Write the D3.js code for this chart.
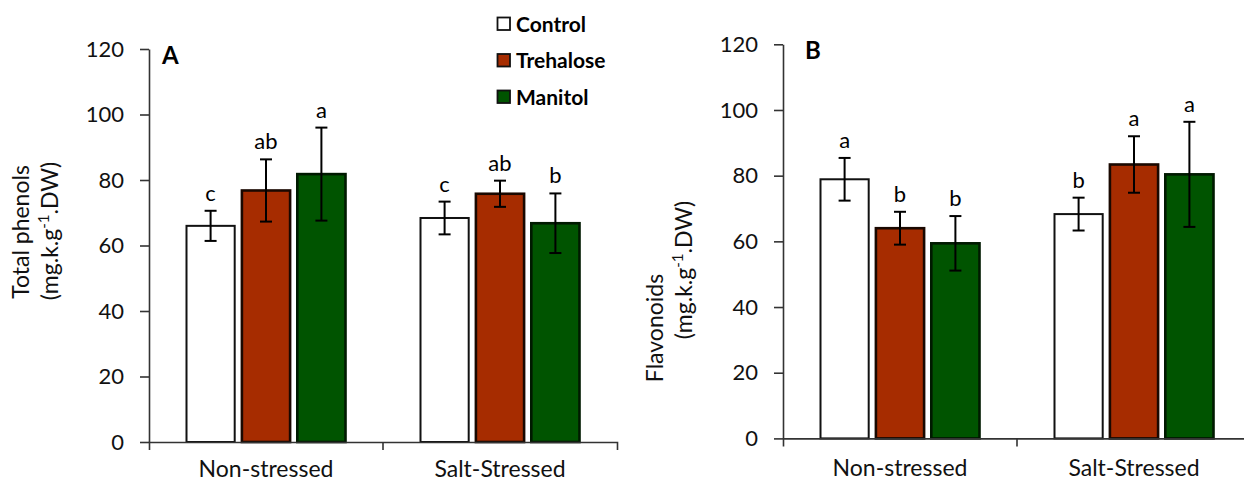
<!DOCTYPE html>
<html>
<head>
<meta charset="utf-8">
<script src="https://cdn.jsdelivr.net/npm/d3@7"></script>
<style>
    body { margin: 0; background: #fff; }
    svg { display: block; font-family: Lato, "Open Sans", sans-serif; }
</style>
</head>
<body>
<div id="chart"></div>
<script>
// values
const groups = ['Non-stressed', 'Salt-Stressed'];
const treatments = ['Control', 'Trehalose', 'Manitol'];
const yTicks = [0, 20, 40, 60, 80, 100, 120];

const phenolMeans = [[66, 76.8, 81.8], [68.4, 75.8, 66.8]];
const phenolErrors = [[4.6, 9.5, 14.2], [5, 4, 9.1]];
const phenolLetters = [['c', 'ab', 'a'], ['c', 'ab', 'b']];

const flavMeans = [[78.9, 64, 59.4], [68.3, 83.4, 80.4]];
const flavErrors = [[6.5, 5, 8.3], [5, 8.6, 16]];
const flavLetters = [['a', 'b', 'b'], ['b', 'a', 'a']];

const fills = ['#ffffff', '#a62c00', '#005400'];
const strokes = ['#111', '#1a0800', '#001a00'];

const svg = d3.select('#chart')
    .append('svg')
    .attr('width', 1244)
    .attr('height', 484);

drawPanel({
    label: 'A', labelDx: 13, left: 149, right: 617, top: 49, bottom: 442, xPad: 19,
    means: phenolMeans, errors: phenolErrors, letters: phenolLetters,
    title: 'Total phenols', titleX: 29, unitX: 58, titleY: 232, unitY: 231
});

drawPanel({
    label: 'B', labelDx: 22, left: 783, right: 1251, top: 44.3, bottom: 438.4, xPad: 21,
    means: flavMeans, errors: flavErrors, letters: flavLetters,
    title: 'Flavonoids', titleX: 663, unitX: 692, titleY: 328, unitY: 270
});

drawLegend();

function drawPanel(p) {
    const g = svg.append('g');

    const y = d3.scaleLinear()
        .domain([0, 120])
        .range([p.bottom, p.top]);

    const x0 = d3.scaleBand()
        .domain(groups)
        .range([p.left, p.right]);

    const groupPad = 37.5;
    const x1 = d3.scaleBand()
        .domain(treatments)
        .range([groupPad, x0.bandwidth() - groupPad])
        .paddingInner(0.13);

    const rows = [];
    groups.forEach((grp, i) => {
        treatments.forEach((t, j) => {
            rows.push({group: grp, treat: t, idx: j,
                mean: p.means[i][j], err: p.errors[i][j], letter: p.letters[i][j]});
        });
    });

    // bars
    g.selectAll('.bar')
        .data(rows)
        .enter()
        .append('rect')
        .attr('class', 'bar')
        .attr('x', d => x0(d.group) + x1(d.treat))
        .attr('width', x1.bandwidth())
        .attr('y', d => y(d.mean))
        .attr('height', d => y(0) - y(d.mean))
        .attr('fill', d => fills[d.idx])
        .attr('stroke', d => strokes[d.idx])
        .attr('stroke-width', d => d.idx === 0 ? 2 : 2.6);

    // error bars
    const cx = d => x0(d.group) + x1(d.treat) + x1.bandwidth() / 2;
    const eb = g.selectAll('.err')
        .data(rows)
        .enter()
        .append('g')
        .attr('class', 'err')
        .attr('stroke', '#000')
        .attr('stroke-width', 2);
    eb.append('line')
        .attr('x1', cx).attr('x2', cx)
        .attr('y1', d => y(d.mean + d.err))
        .attr('y2', d => y(d.mean - d.err));
    eb.append('line')
        .attr('x1', d => cx(d) - 6).attr('x2', d => cx(d) + 6)
        .attr('y1', d => y(d.mean + d.err)).attr('y2', d => y(d.mean + d.err));
    eb.append('line')
        .attr('x1', d => cx(d) - 6).attr('x2', d => cx(d) + 6)
        .attr('y1', d => y(d.mean - d.err)).attr('y2', d => y(d.mean - d.err));

    // significance letters
    g.selectAll('.letter')
        .data(rows)
        .enter()
        .append('text')
        .attr('class', 'letter')
        .attr('x', cx)
        .attr('y', d => y(d.mean + d.err) - 10)
        .attr('text-anchor', 'middle')
        .attr('font-size', 22)
        .attr('fill', '#000')
        .text(d => d.letter);

    // y axis
    const yAxis = g.append('g')
        .attr('transform', 'translate(' + p.left + ',0)')
        .call(d3.axisLeft(y).tickValues(yTicks).tickSize(9).tickSizeOuter(0).tickPadding(16));
    yAxis.attr('font-family', null);
    yAxis.selectAll('text').attr('font-size', 22).attr('fill', '#111');
    yAxis.selectAll('line, path').attr('stroke', '#333').attr('stroke-width', 1.6);

    // x axis
    const xAxis = g.append('g')
        .attr('transform', 'translate(0,' + p.bottom + ')')
        .call(d3.axisBottom(x0).tickSizeInner(0).tickSizeOuter(8).tickPadding(p.xPad));
    xAxis.attr('font-family', null);
    xAxis.selectAll('text').attr('font-size', 23).attr('fill', '#111');
    xAxis.selectAll('path').attr('stroke', '#333').attr('stroke-width', 1.6);
    xAxis.append('line')
        .attr('x1', x0(groups[1])).attr('x2', x0(groups[1]))
        .attr('y1', 0).attr('y2', 8)
        .attr('stroke', '#333')
        .attr('stroke-width', 1.6);

    // panel letter
    g.append('text')
        .attr('x', p.left + p.labelDx)
        .attr('y', p.top + 15)
        .attr('font-size', 24)
        .attr('font-weight', 'bold')
        .attr('fill', '#000')
        .text(p.label);

    // axis titles
    g.append('text')
        .attr('transform', 'translate(' + p.titleX + ',' + p.titleY + ') rotate(-90)')
        .attr('text-anchor', 'middle')
        .attr('font-size', 23)
        .attr('fill', '#111')
        .text(p.title);

    const unit = g.append('text')
        .attr('transform', 'translate(' + p.unitX + ',' + p.unitY + ') rotate(-90)')
        .attr('text-anchor', 'middle')
        .attr('font-size', 23)
        .attr('fill', '#111');
    unit.append('tspan').text('(mg.k.g');
    unit.append('tspan').attr('font-size', 15).attr('dy', -9).text('-1');
    unit.append('tspan').attr('dy', 9).text('.DW)');
}

function drawLegend() {
    const lg = svg.append('g').attr('transform', 'translate(497,0)');
    const rowY = d3.scalePoint()
        .domain(treatments)
        .range([24, 97]);

    const item = lg.selectAll('.item')
        .data(treatments)
        .enter()
        .append('g')
        .attr('class', 'item')
        .attr('transform', d => 'translate(0,' + rowY(d) + ')');

    item.append('rect')
        .attr('x', 0.5)
        .attr('y', -6.5)
        .attr('width', 12.5)
        .attr('height', 12.5)
        .attr('fill', (d, i) => fills[i])
        .attr('stroke', '#111')
        .attr('stroke-width', 1.8);

    item.append('text')
        .attr('x', 19)
        .attr('y', 0)
        .attr('dy', '0.36em')
        .attr('font-size', 21)
        .attr('font-weight', 'bold')
        .attr('fill', '#000')
        .text(d => d);
}
</script>
</body>
</html>
